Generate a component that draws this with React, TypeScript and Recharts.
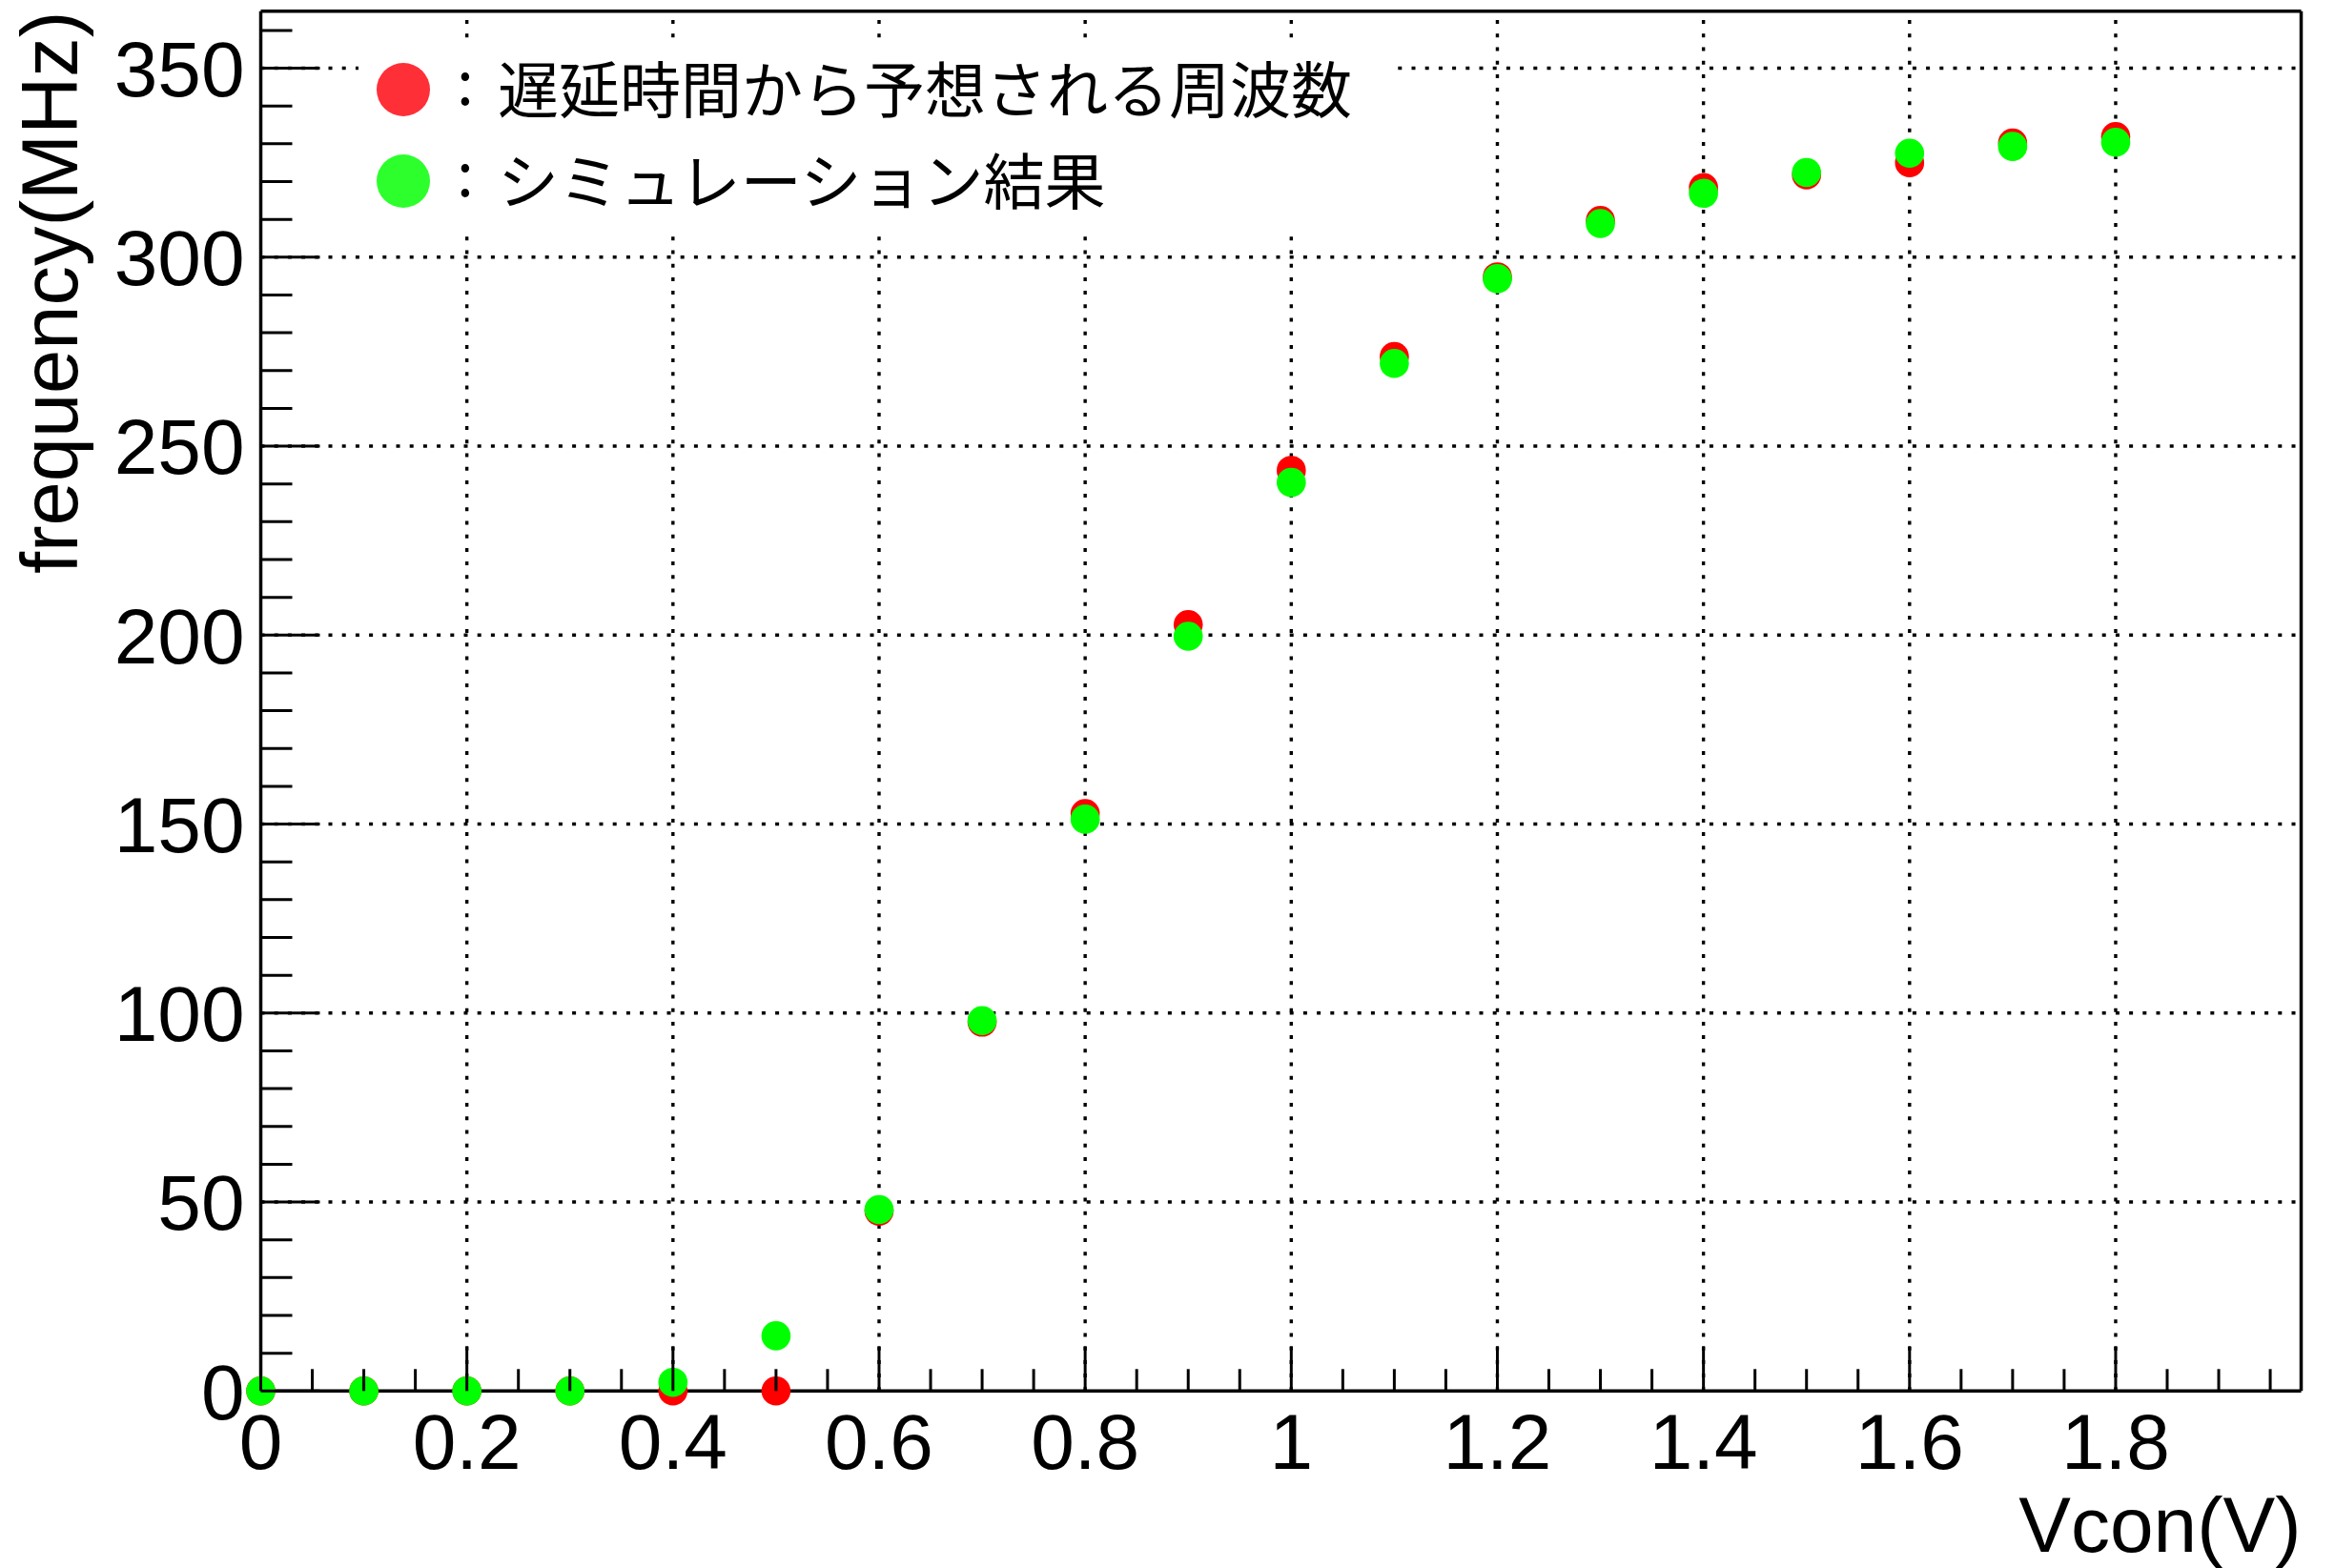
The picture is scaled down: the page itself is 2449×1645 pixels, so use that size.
import React from 'react';
import {
  ScatterChart,
  Scatter,
  XAxis,
  YAxis,
  ReferenceLine,
  Label,
} from 'recharts';

// Control voltage (V)
const vcon = [0, 0.1, 0.2, 0.3, 0.4, 0.5, 0.6, 0.7, 0.8, 0.9, 1.0, 1.1, 1.2, 1.3, 1.4, 1.5, 1.6, 1.7, 1.8];
// Frequency predicted from the measured delay (MHz)
const delayFreq = [0, 0, 0, 0, 0, 0, 47.6, 97.6, 152.8, 202.8, 243.6, 273.7, 294.8, 309.7, 318.4, 321.8, 325.0, 330.2, 331.9];
// Simulated frequency (MHz)
const simFreq = [0, 0, 0, 0, 2.3, 14.6, 48.0, 98.0, 151.3, 199.7, 240.4, 271.9, 294.3, 308.9, 316.9, 322.4, 327.5, 329.3, 330.4];

const xMajorTicks = [0, 0.2, 0.4, 0.6, 0.8, 1, 1.2, 1.4, 1.6, 1.8];
const xTickLabels = ['0', '0.2', '0.4', '0.6', '0.8', '1', '1.2', '1.4', '1.6', '1.8'];
const xMinorTicks = [0.05, 0.1, 0.15, 0.25, 0.3, 0.35, 0.45, 0.5, 0.55, 0.65, 0.7, 0.75, 0.85, 0.9, 0.95,
  1.05, 1.1, 1.15, 1.25, 1.3, 1.35, 1.45, 1.5, 1.55, 1.65, 1.7, 1.75, 1.85, 1.9, 1.95];
const yMajorTicks = [0, 50, 100, 150, 200, 250, 300, 350];
const yTickLabels = ['0', '50', '100', '150', '200', '250', '300', '350'];
const yMinorTicks = [10, 20, 30, 40, 60, 70, 80, 90, 110, 120, 130, 140, 160, 170, 180, 190,
  210, 220, 230, 240, 260, 270, 280, 290, 310, 320, 330, 340, 360];

const X_MAX = 1.98;
const Y_MAX = 365.1;

const legendLabels = ['遅延時間から予想される周波数', 'シミュレーション結果'];

const delayPoints = vcon.map((v, i) => ({ v, f: delayFreq[i] }));
const simPoints = vcon.map((v, i) => ({ v, f: simFreq[i] }));

const FONT = '"Liberation Sans", Arial, Helvetica, sans-serif';
const CJK = '"Noto Sans CJK JP", "Noto Sans", sans-serif';

const allXTicks = [...xMajorTicks, ...xMinorTicks].sort((a, b) => a - b);
const allYTicks = [...yMajorTicks, ...yMinorTicks].sort((a, b) => a - b);

const near = (a: number, b: number) => Math.abs(a - b) < 1e-6;

const XTick = (props: any) => {
  const { x, y, payload } = props;
  const idx = xMajorTicks.findIndex((t) => near(t, payload.value));
  const major = idx >= 0;
  return (
    <g>
      <line x1={x} y1={y} x2={x} y2={y - (major ? 47 : 23)} stroke="#000" strokeWidth={3} />
      {major && (
        <text x={x} y={y + 81.4} textAnchor="middle" fontSize={82} fontFamily={FONT} fill="#000">
          {xTickLabels[idx]}
        </text>
      )}
    </g>
  );
};

const YTick = (props: any) => {
  const { x, y, payload } = props;
  const idx = yMajorTicks.findIndex((t) => near(t, payload.value));
  const major = idx >= 0;
  return (
    <g>
      <line x1={x} y1={y} x2={x + (major ? 62 : 33)} y2={y} stroke="#000" strokeWidth={3} />
      {major && (
        <text x={x - 17} y={y + 29.4} textAnchor="end" fontSize={82} fontFamily={FONT} fill="#000">
          {yTickLabels[idx]}
        </text>
      )}
    </g>
  );
};

const XTitle = (props: any) => {
  const vb = props.viewBox;
  return (
    <text x={vb.x + vb.width} y={vb.y + 168.7} textAnchor="end" fontSize={82} fontFamily={FONT} fill="#000">
      Vcon(V)
    </text>
  );
};

const YTitle = (props: any) => {
  const vb = props.viewBox;
  return (
    <text
      transform={`translate(81, ${vb.y}) rotate(-90)`}
      textAnchor="end"
      fontSize={83}
      fontFamily={FONT}
      fill="#000"
    >
      frequency(MHz)
    </text>
  );
};

const dot = (color: string) => (p: any) => <circle cx={p.cx} cy={p.cy} r={15.3} fill={color} />;

const gridStyle = { stroke: '#000', strokeWidth: 3.4, strokeDasharray: '4 10.2' };

// Legend box: white panel over the grid, marker + colon + description per row
const Legend = () => (
  <div
    style={{
      position: 'absolute',
      left: 376,
      top: 45,
      width: 1084,
      height: 193,
      background: '#fff',
    }}
  >
    <svg width={1084} height={193} style={{ overflow: 'visible' }}>
      <circle cx={47} cy={49} r={28} fill="#ff2f37" />
      <circle cx={47} cy={145} r={28} fill="#2cff2c" />
      <text fontSize={64} fontFamily={CJK} fill="#000">
        <tspan x={103} y={64.6}>:</tspan>
        <tspan x={146} y={72.5}>{legendLabels[0]}</tspan>
      </text>
      <text fontSize={64} fontFamily={CJK} fill="#000">
        <tspan x={103} y={160.6}>:</tspan>
        <tspan x={146} y={168.5}>{legendLabels[1]}</tspan>
      </text>
    </svg>
  </div>
);

export default function App() {
  return (
    <div style={{ position: 'absolute', left: 0, top: 0, width: 2449, height: 1645, background: '#fff' }}>
      <ScatterChart
        width={2449}
        height={1645}
        margin={{ top: 11.7, right: 35.5, bottom: 35.7, left: 73.5 }}
      >
        <XAxis
          type="number"
          dataKey="v"
          domain={[0, X_MAX]}
          ticks={allXTicks}
          interval={0}
          tickSize={0}
          tickMargin={0}
          tickLine={false}
          tick={<XTick />}
          height={150}
          axisLine={{ stroke: '#000', strokeWidth: 3.5 }}
        >
          <Label content={<XTitle />} />
        </XAxis>
        <YAxis
          type="number"
          dataKey="f"
          domain={[0, Y_MAX]}
          ticks={allYTicks}
          interval={0}
          tickSize={0}
          tickMargin={0}
          tickLine={false}
          tick={<YTick />}
          width={200}
          axisLine={{ stroke: '#000', strokeWidth: 3.5 }}
        >
          <Label content={<YTitle />} />
        </YAxis>
        {xMajorTicks.filter((t) => t > 0).map((t) => (
          <ReferenceLine key={`gx${t}`} x={t} {...gridStyle} />
        ))}
        {yMajorTicks.filter((t) => t > 0).map((t) => (
          <ReferenceLine key={`gy${t}`} y={t} {...gridStyle} />
        ))}
        <ReferenceLine x={X_MAX} stroke="#000" strokeWidth={3.5} />
        <ReferenceLine y={Y_MAX} stroke="#000" strokeWidth={3.5} />
        <Scatter data={delayPoints} shape={dot('#ff0000')} isAnimationActive={false} />
        <Scatter data={simPoints} shape={dot('#00ff00')} isAnimationActive={false} />
      </ScatterChart>
      <Legend />
    </div>
  );
}
